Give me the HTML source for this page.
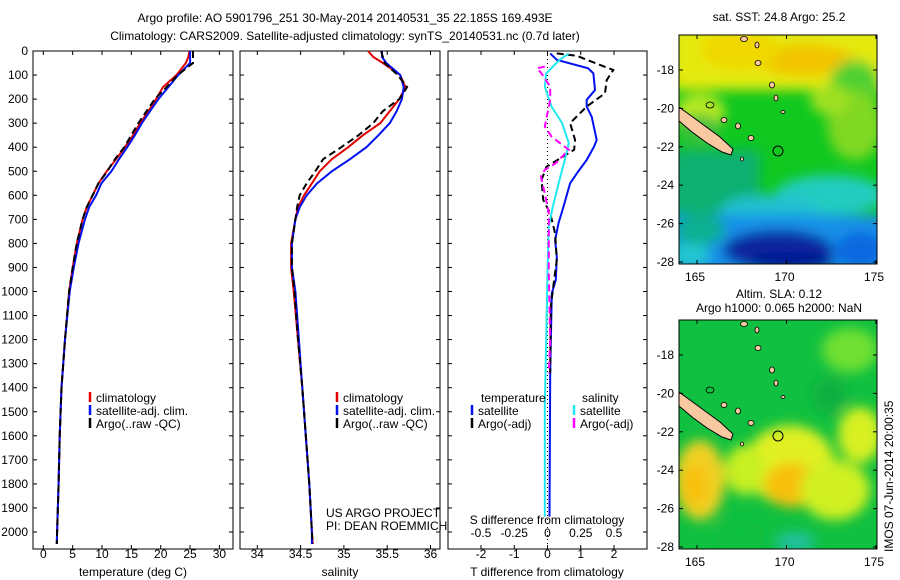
<!DOCTYPE html>
<html><head><meta charset="utf-8"><style>
body{margin:0;background:#fff}
svg{display:block;font-family:"Liberation Sans",sans-serif;font-size:12px}
</style></head><body>
<svg id="c" width="900" height="580" xmlns="http://www.w3.org/2000/svg">
<defs><filter id="bl" x="-20%" y="-20%" width="140%" height="140%"><feGaussianBlur stdDeviation="6"/></filter>
<clipPath id="m1"><rect x="679" y="35" width="198" height="229"/></clipPath>
<clipPath id="m2"><rect x="679" y="320" width="198" height="229"/></clipPath></defs>
<text x="345" y="22" text-anchor="middle">Argo profile: AO 5901796_251 30-May-2014 20140531_35 22.185S 169.493E</text>
<text x="345" y="40" text-anchor="middle">Climatology: CARS2009. Satellite-adjusted climatology: synTS_20140531.nc (0.7d later)</text>
<g id="plots"></g>
<g id="maps"></g>
</svg>
<script>
const NS="http://www.w3.org/2000/svg";
const plotG=document.getElementById('plots');
function el(t,a,p){const e=document.createElementNS(NS,t);for(const k in a)e.setAttribute(k,a[k]);(p||plotG).appendChild(e);return e;}
// ---- data ----
const depthT=[0,25,50,100,150,200,250,300,350,400,450,500,550,600,650,700,800,900,1000,1200,1400,1600,1800,2000,2050];
const tempClim=[24.9,24.7,24.3,22.7,20.4,19.2,17.9,16.5,15.3,13.9,12.4,10.8,9.4,8.4,7.4,6.7,5.7,5,4.4,3.7,3.1,2.8,2.6,2.35,2.3];
const tempSat=[25,25,25,23,21.3,19.6,18.2,16.8,15.6,14.3,12.9,11.6,9.9,9,7.8,7.1,6,5.2,4.5,3.7,3.1,2.8,2.6,2.35,2.3];
const tempArgo=[25.5,25.5,25.5,22.9,21,19,17.6,16.2,15,13.8,12.2,10.9,9.4,8.4,7.4,6.7,5.7,5,4.4,3.7,3.1,2.8,2.6,2.35,2.3];
const salClim=[35.28,35.34,35.45,35.65,35.71,35.64,35.53,35.42,35.22,35.05,34.86,34.72,34.63,34.54,34.47,34.44,34.39,34.39,34.42,34.47,34.52,34.56,34.6,34.63,34.64];
const salSat=[35.44,35.44,35.49,35.65,35.69,35.67,35.61,35.53,35.4,35.26,35.07,34.86,34.69,34.57,34.49,34.44,34.4,34.4,34.44,34.48,34.52,34.56,34.6,34.63,34.63];
const salArgo=[35.43,35.45,35.47,35.62,35.73,35.64,35.45,35.34,35.17,34.97,34.76,34.67,34.57,34.49,34.46,34.44,34.4,34.4,34.43,34.47,34.52,34.56,34.6,34.63,34.64];
const depthDT=[10,37,72,93,162,203,231,273,370,398,453,509,550,647,716,786,855,952,1007,1340,1936];
const dTsat=[0.08,0.28,1.22,1.38,1.43,1.18,1.18,1.33,1.48,1.4,1.18,0.88,0.68,0.48,0.33,0.23,0.28,0.25,0.13,0.08,0.06];
const depthDA=[10,20,42,79,121,176,231,300,370,411,481,536,619,675,758,869,952,1063,1340];
const dTargo=[0.28,0.88,1.28,1.98,1.78,1.73,1.18,0.68,0.83,0.8,-0.03,-0.18,-0.13,0.08,0.23,0.28,0.2,0.1,0.08];
const depthDS=[10,37,93,148,231,300,383,453,536,647,730,924,1201,1479,1936];
const dSsat=[0.16,0.09,-0.01,-0.02,0.03,0.11,0.16,0.13,0.09,0.04,0.01,0,-0.01,-0.02,-0.02];
const depthDSA=[65,72,90,148,203,314,356,411,467,494,522,592,675,924,1201,1340];
const dSargo=[-0.02,-0.08,-0.05,0.02,0.02,-0.02,0.03,0.16,0.06,-0.02,-0.05,-0.02,0.01,0.01,0.02,0.01];
const depthTicks=[0,100,200,300,400,500,600,700,800,900,1000,1100,1200,1300,1400,1500,1600,1700,1800,1900,2000];
const tTicks=[0,5,10,15,20,25,30];
const sTicks=[34,34.5,35,35.5,36];
const dTTicks=[-2,-1,0,1,2];
const dSTicks=[-0.5,-0.25,0,0.25,0.5];
// ---- axes ----
const yTop=51,yBot=549;
const yD=d=>yTop+d*0.2405;
const P1={x0:33,x1:233,f:v=>43.3+v*5.87};
const P2={x0:240,x1:440,f:v=>257.3+(v-34)*86.6};
const P3={x0:448,x1:647,f:v=>547.5+v*33.25};
const fS=v=>547.5+v*133;
function drawFrame(P,name){
 el('rect',{x:P.x0,y:yTop,width:P.x1-P.x0,height:yBot-yTop,fill:'none',stroke:'#000','stroke-width':1,});
 depthTicks.forEach(d=>{el('line',{x1:P.x0,x2:P.x0+4,y1:yD(d),y2:yD(d),stroke:'#000'});el('line',{x1:P.x1-4,x2:P.x1,y1:yD(d),y2:yD(d),stroke:'#000'});});
}
function drawLine(xs,ds,f,col,name,dash){
 const pts=xs.map((v,i)=>f(v).toFixed(1)+','+yD(ds[i]).toFixed(1));
 const e=el('polyline',{points:pts.join(' '),fill:'none',stroke:col,'stroke-width':2});
 if(dash)e.setAttribute('stroke-dasharray',dash);
 
 
}
drawFrame(P1,'temperature-panel');drawFrame(P2,'salinity-panel');drawFrame(P3,'difference-panel');
depthTicks.forEach(d=>{const t=el('text',{x:28,y:yD(d)+4,'text-anchor':'end'});t.textContent=d;
 });
function xt(P,ticks,f,y){ticks.forEach(v=>{const x=f(v);el('line',{x1:x,x2:x,y1:yBot,y2:yBot-4,stroke:'#000'});el('line',{x1:x,x2:x,y1:yTop,y2:yTop+4,stroke:'#000'});
 const t=el('text',{x:x,y:y,'text-anchor':'middle'});t.textContent=v;
 });}
xt(P1,tTicks,P1.f,558);xt(P2,sTicks,P2.f,558);xt(P3,dTTicks,P3.f,558);
dSTicks.forEach(v=>{const t=el('text',{x:fS(v),y:537,'text-anchor':'middle'});t.textContent=String(v);
 });
function tx(x,y,s,name,a){const t=el('text',{x:x,y:y,'text-anchor':a||'start'});t.textContent=s;return t;}
tx(133,576,'temperature (deg C)','temperature-axis-title','middle');
tx(340,576,'salinity','salinity-axis-title','middle');
tx(547,576,'T difference from climatology','t-diff-axis-title','middle');
tx(547,524,'S difference from climatology','s-diff-axis-title','middle');
tx(326,517,'US ARGO PROJECT','project-label');tx(326,530,'PI: DEAN ROEMMICH','pi-label');
el('line',{x1:P3.f(0),x2:P3.f(0),y1:yTop,y2:yBot,stroke:'#000','stroke-dasharray':'1,3','stroke-width':1});
drawLine(tempClim,depthT,P1.f,'#e00000','temp-climatology');
drawLine(tempSat,depthT,P1.f,'#0010f0','temp-satellite-adj');
drawLine(tempArgo,depthT,P1.f,'#000','temp-argo','7,4');
drawLine(salClim,depthT,P2.f,'#e00000','sal-climatology');
drawLine(salSat,depthT,P2.f,'#0010f0','sal-satellite-adj');
drawLine(salArgo,depthT,P2.f,'#000','sal-argo','7,4');
drawLine(dTsat,depthDT,P3.f,'#0010f0','tdiff-satellite');
drawLine(dTargo,depthDA,P3.f,'#000','tdiff-argo','7,4');
drawLine(dSsat,depthDS,fS,'#20e8f0','sdiff-satellite');
drawLine(dSargo,depthDSA,fS,'#ff00ff','sdiff-argo','7,4');
function leg(x,y,col,label,name){el('line',{x1:x,x2:x,y1:y-10,y2:y,stroke:col,'stroke-width':2.5});tx(x+6,y,label,name);}
[90,337].forEach(x=>{leg(x,402,'#e00000','climatology','legend-climatology');leg(x,415,'#0010f0','satellite-adj. clim.','legend-satellite');leg(x,428,'#000','Argo(..raw -QC)','legend-argo');});
tx(481,402,'temperature','legend-temperature-head');tx(582,402,'salinity','legend-salinity-head');
leg(472,415,'#0010f0','satellite','legend-t-satellite');leg(472,428,'#000','Argo(-adj)','legend-t-argo');
leg(574,415,'#20e8f0','satellite','legend-s-satellite');leg(574,428,'#ff00ff','Argo(-adj)','legend-s-argo');
// ---- maps ----
const M=document.getElementById('maps');
function mel(t,a){return el(t,a,M);}
const lonTicks=[165,170,175];const latTicks=[-18,-20,-22,-24,-26,-28];
function drawMap(y0,clip,shapes,base,name,title){
 const o=y0-35;
 const g=mel('g',{'clip-path':'url(#'+clip+')',});
 el('rect',{x:679,y:y0,width:198,height:229,fill:base},g);
 const gb=el('g',{filter:'url(#bl)'},g);
 shapes.forEach(b=>{if(b[0]==='r')el('rect',{x:b[1],y:b[2]+o,width:b[3],height:b[4],fill:b[5]},gb);
   else el('ellipse',{cx:b[1],cy:b[2]+o,rx:b[3],ry:b[4],fill:b[5]},gb);});
 el('polygon',{points:[[679,107],[690,115],[705,126],[720,137],[733,149],[731,155],[722,152],[707,143],[692,132],[679,121]].map(p=>p[0]+','+(p[1]+o)).join(' '),fill:'#f8c8a0',stroke:'#000','stroke-width':1},g);
 [[744,39,3.5,2.5],[757,45,2,3],[758,63,3,2.5],[772,85,2.5,3],[776,98,2,3],[783,112,2,1.5],[724,120,3,2.5],[738,126,2.5,3],[751,138,3,2.5],[742,159,1.5,2]].forEach(p=>el('ellipse',{cx:p[0],cy:p[1]+o,rx:p[2],ry:p[3],fill:'#f8c8a0',stroke:'#000','stroke-width':0.8},g));
 el('ellipse',{cx:710,cy:105+o,rx:4,ry:3,fill:'none',stroke:'#000','stroke-width':0.8},g);
 el('circle',{cx:778,cy:151+o,r:5,fill:'none',stroke:'#000'},g);
 mel('rect',{x:679,y:y0,width:198,height:229,fill:'none',stroke:'#000'});
 latTicks.forEach(l=>{const y=70+o+(-18-l)*19.2;mel('line',{x1:679,x2:683,y1:y,y2:y,stroke:'#000'});mel('line',{x1:873,x2:877,y1:y,y2:y,stroke:'#000'});
  const t=mel('text',{x:674,y:y+4,'text-anchor':'end'});t.textContent=l;});
 lonTicks.forEach(l=>{const x=697+(l-165)*17.9;mel('line',{x1:x,x2:x,y1:y0+229,y2:y0+225,stroke:'#000'});mel('line',{x1:x,x2:x,y1:y0,y2:y0+4,stroke:'#000'});
  const t=mel('text',{x:x-2,y:y0+246,'text-anchor':'middle'});t.textContent=l;});
 title.forEach((s,i)=>{const yy=title.length==1?y0-14:y0-22+i*14;const t=mel('text',{x:779,y:yy,'text-anchor':'middle'});t.textContent=s;});
}
drawMap(35,'m1',[
 ['r',670,25,220,65,'#e4ea10'],['e',805,60,50,16,'#f2c400'],['e',740,50,40,20,'#f0d800'],['e',855,85,25,25,'#50d030'],
 ['e',700,112,25,18,'#b8e820'],['e',855,125,28,35,'#80d820'],['e',830,100,20,15,'#a0e020'],
 ['r',670,150,90,120,'#10b070'],['e',700,130,20,15,'#40c040'],
 ['e',830,195,55,20,'#20ccc0'],['e',770,210,50,15,'#20c0d0'],
 ['r',670,215,220,60,'#1890e8'],['e',690,255,20,12,'#20c8d0'],['e',700,230,25,15,'#10b090'],
 ['e',778,250,55,20,'#0828a0'],['e',790,262,45,10,'#001890'],['e',860,250,25,18,'#1068e0']],
 '#10c820','sst-map',['sat. SST: 24.8  Argo: 25.2']);
drawMap(320,'m2',[
 ['e',700,195,25,40,'#f0d020'],['e',695,200,12,20,'#f8c010'],
 ['e',790,180,45,40,'#e0f020'],['e',792,200,28,22,'#f8c010'],
 ['e',860,150,22,28,'#d8f020'],['e',835,205,35,30,'#d0f020'],['e',745,185,20,25,'#c8f020'],
 ['e',850,65,28,22,'#70e030'],['e',830,110,18,18,'#10b040'],
 ['e',795,257,20,10,'#20c0a0'],['e',740,250,25,15,'#10c040']],
 '#10c040','sla-map',['Altim. SLA: 0.12','Argo h1000: 0.065 h2000: NaN']);
const s=mel('text',{x:0,y:0,transform:'translate(893,552) rotate(-90)'});s.textContent='IMOS 07-Jun-2014 20:00:35';
</script>
</body></html>
